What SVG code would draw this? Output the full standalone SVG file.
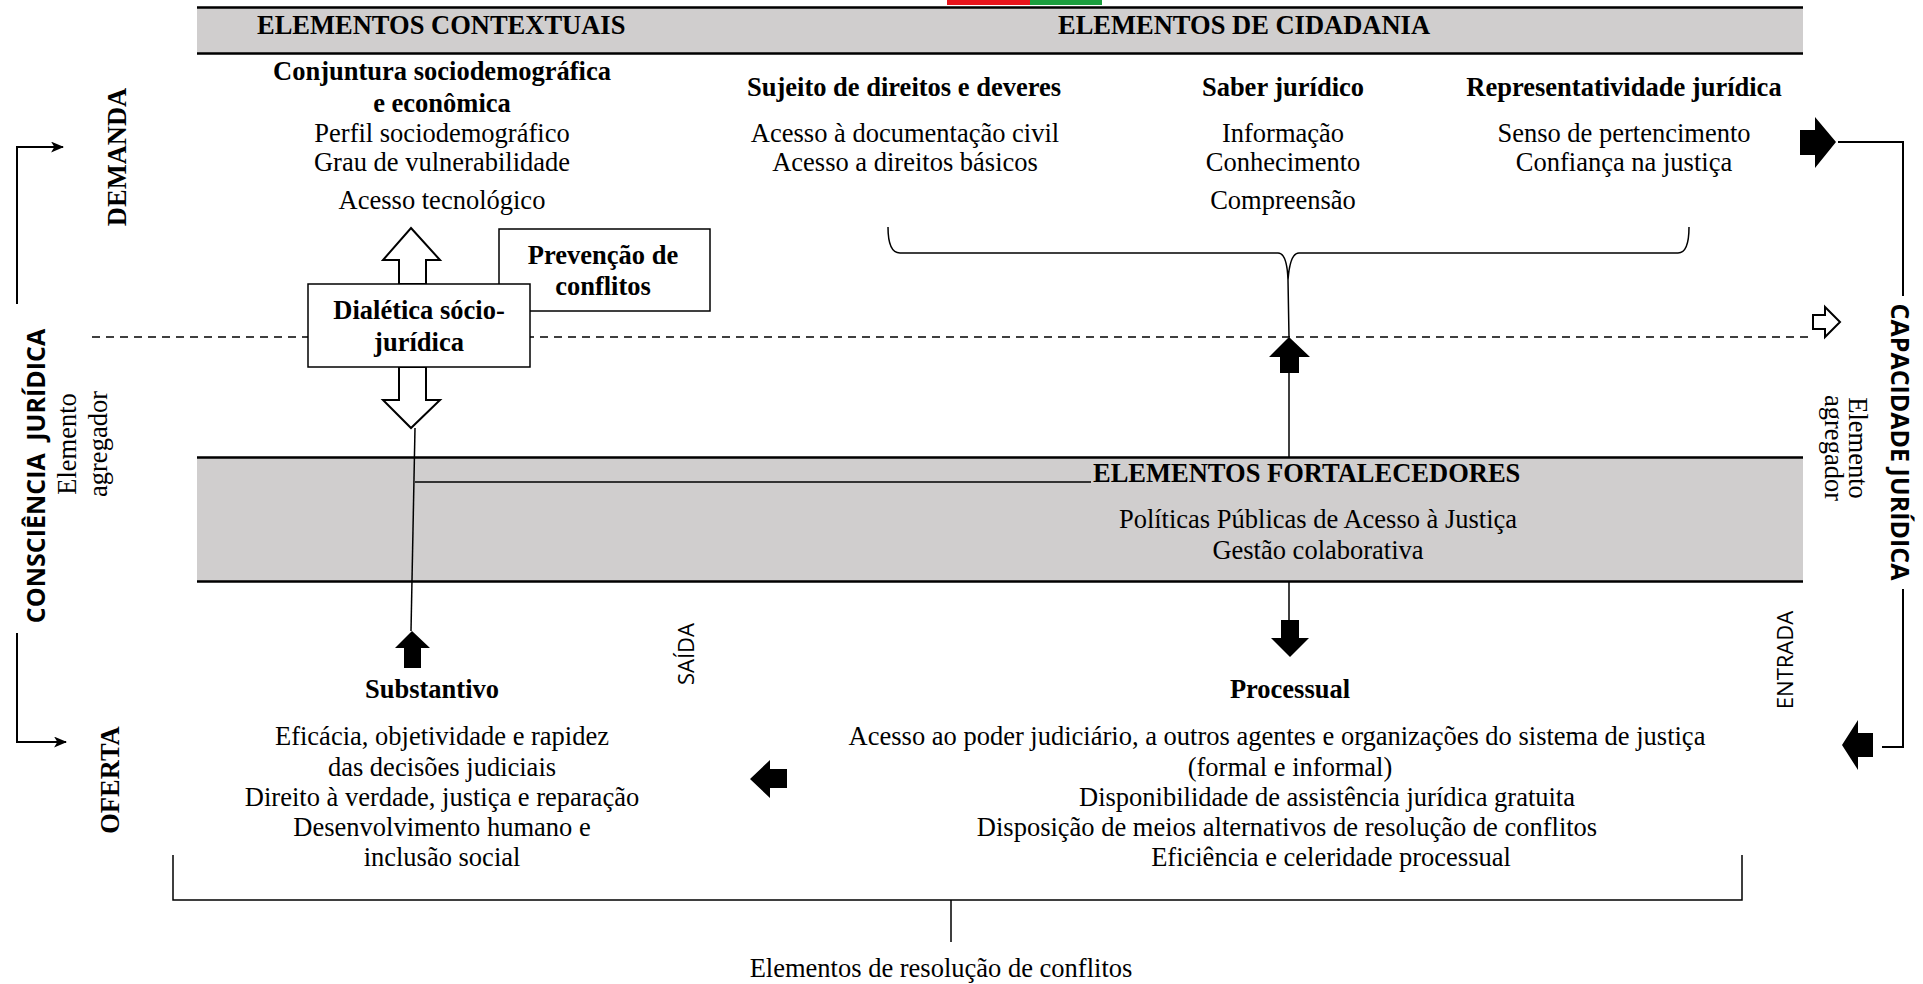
<svg xmlns="http://www.w3.org/2000/svg" width="1923" height="984" viewBox="0 0 1923 984">
<defs>
<style>
.s{font-family:"Liberation Serif","Times New Roman",serif;font-size:26.5px;fill:#000}
.b{font-weight:bold}
.m{text-anchor:middle}
.sans{font-family:"Open Sans","Liberation Sans",sans-serif;fill:#000}
.band{fill:#d0cece}
.bl{stroke:#000;stroke-width:2.6;fill:none}
.ln{stroke:#000;stroke-width:1.5;fill:none}
.lc{stroke:#000;stroke-width:2;fill:none}
.blk{fill:#000}
.hol{fill:#fff;stroke:#000;stroke-width:2}
.box{fill:#fff;stroke:#000;stroke-width:1.5}
</style>
<marker id="ah" viewBox="0 0 12 10" refX="11" refY="5" markerWidth="13" markerHeight="11" markerUnits="userSpaceOnUse" orient="auto"><path d="M0,0 L12,5 L0,10 L3,5 Z" fill="#000"/></marker>
</defs>
<rect width="1923" height="984" fill="#fff"/>
<g id="flag">
<rect x="947" y="0" width="83" height="5" fill="#e8141c"/>
<rect x="1030" y="0" width="72" height="5" fill="#1b9e3e"/>
</g>
<g id="top-band">
<rect class="band" x="197" y="7" width="1606" height="47"/>
<path class="bl" d="M197,7.5 H1803 M197,53.5 H1803"/>
<text class="s b" x="257" y="34">ELEMENTOS CONTEXTUAIS</text>
<text class="s b" x="1058" y="34">ELEMENTOS DE CIDADANIA</text>
</g>
<g id="mid-band">
<rect class="band" x="197" y="457" width="1606" height="125"/>
<path class="bl" d="M197,457.5 H1803 M197,581.5 H1803"/>
<text class="s b" x="1093" y="482">ELEMENTOS FORTALECEDORES</text>
<text class="s m" x="1318" y="528">Políticas Públicas de Acesso à Justiça</text>
<text class="s m" x="1318" y="559">Gestão colaborativa</text>
</g>
<g id="conjuntura">
<text class="s b m" x="442" y="80">Conjuntura sociodemográfica</text>
<text class="s b m" x="442" y="112">e econômica</text>
<text class="s m" x="442" y="142">Perfil sociodemográfico</text>
<text class="s m" x="442" y="171">Grau de vulnerabilidade</text>
<text class="s m" x="442" y="209">Acesso tecnológico</text>
</g>
<g id="sujeito">
<text class="s b m" x="904" y="96">Sujeito de direitos e deveres</text>
<text class="s m" x="905" y="142">Acesso à documentação civil</text>
<text class="s m" x="905" y="171">Acesso a direitos básicos</text>
</g>
<g id="saber">
<text class="s b m" x="1283" y="96">Saber jurídico</text>
<text class="s m" x="1283" y="142">Informação</text>
<text class="s m" x="1283" y="171">Conhecimento</text>
<text class="s m" x="1283" y="209">Compreensão</text>
</g>
<g id="representatividade">
<text class="s b m" x="1624" y="96">Representatividade jurídica</text>
<text class="s m" x="1624" y="142">Senso de pertencimento</text>
<text class="s m" x="1624" y="171">Confiança na justiça</text>
</g>
<g id="connectors">
<path class="ln" d="M92,337 H1812" stroke-dasharray="8 6" stroke-width="2"/>
<path class="ln" d="M888,227 Q888,253 900,253 H1278 Q1287,253 1288,280 Q1290,253 1299,253 H1678 Q1689,253 1689,227"/>
<path class="ln" d="M1288,280 L1289,337 M1289,373 V457 M1289,582 V620"/>
<path class="ln" d="M415,428 L411,631"/>
<path d="M415,482 H1091" stroke="#333" stroke-width="2" fill="none"/>
<path class="lc" d="M17,304 V147 H63" marker-end="url(#ah)"/>
<path class="lc" d="M17,633 V742 H66" marker-end="url(#ah)"/>
<path class="lc" d="M1838,142 H1903 V296 M1903,589 V747 H1882"/>
<path class="ln" d="M173,855 V900 H1742 V855 M951,900 V942"/>
<polygon class="blk" points="1289,337 1310,357 1299,357 1299,373 1280,373 1280,357 1269,357"/>
<polygon class="blk" points="412,631 430,648 421,648 421,668 404,668 404,648 395,648"/>
<polygon class="blk" points="1281,620 1299,620 1299,638 1309,638 1290,657 1271,638 1281,638"/>
<polygon class="blk" points="750,779 770,760 770,769 787,769 787,788 770,788 770,798"/>
<polygon class="blk" points="1800,130 1815,130 1815,117 1836,142 1815,168 1815,155 1800,155"/>
<polygon class="blk" points="1842,745 1858,720 1858,733 1873,733 1873,757 1858,757 1858,770"/>
<polygon class="hol" points="411,228 440,260 426,260 426,284 399,284 399,260 383,260"/>
<polygon class="hol" points="399,367 426,367 426,400 440,400 411,428 383,400 399,400"/>
<polygon class="hol" points="1813,315 1825,315 1825,307 1840,322 1825,337 1825,329 1813,329"/>
</g>
<g id="prevencao">
<rect class="box" x="499" y="229" width="211" height="82"/>
<text class="s b m" x="603" y="264">Prevenção de</text>
<text class="s b m" x="603" y="295">conflitos</text>
</g>
<g id="dialetica">
<rect class="box" x="308" y="284" width="222" height="83"/>
<text class="s b m" x="419" y="319">Dialética sócio-</text>
<text class="s b m" x="419" y="351">jurídica</text>
</g>
<g id="substantivo">
<text class="s b m" x="432" y="698">Substantivo</text>
<text class="s m" x="442" y="745">Eficácia, objetividade e rapidez</text>
<text class="s m" x="442" y="776">das decisões judiciais</text>
<text class="s m" x="442" y="806">Direito à verdade, justiça e reparação</text>
<text class="s m" x="442" y="836">Desenvolvimento humano e</text>
<text class="s m" x="442" y="866">inclusão social</text>
</g>
<g id="processual">
<text class="s b m" x="1290" y="698">Processual</text>
<text class="s m" x="1277" y="745">Acesso ao poder judiciário, a outros agentes e organizações do sistema de justiça</text>
<text class="s m" x="1290" y="776">(formal e informal)</text>
<text class="s m" x="1327" y="806">Disponibilidade de assistência jurídica gratuita</text>
<text class="s m" x="1287" y="836">Disposição de meios alternativos de resolução de conflitos</text>
<text class="s m" x="1331" y="866">Eficiência e celeridade processual</text>
</g>
<g id="resolucao">
<text class="s m" x="941" y="977">Elementos de resolução de conflitos</text>
</g>
<g id="side-left">
<text class="s b m" transform="translate(126,157) rotate(-90)">DEMANDA</text>
<text class="s b m" transform="translate(119,780) rotate(-90)">OFERTA</text>
<text class="sans m" font-weight="bold" font-size="25" transform="translate(45,476) rotate(-90)">CONSCIÊNCIA <tspan dx="6">JURÍDICA</tspan></text>
<text class="s m" transform="translate(76,444) rotate(-90)">Elemento</text>
<text class="s m" transform="translate(107,444) rotate(-90)">agregador</text>
</g>
<g id="side-right">
<text class="sans m" font-weight="bold" font-size="25" transform="translate(1891,442) rotate(90)">CAPACIDADE JURÍDICA</text>
<text class="s m" transform="translate(1849,448) rotate(90)">Elemento</text>
<text class="s m" transform="translate(1825,448) rotate(90)">agregador</text>
</g>
<g id="flow-labels">
<text class="sans m" font-size="22" transform="translate(694,654) rotate(-90)">SAÍDA</text>
<text class="sans m" font-size="22" transform="translate(1793,660) rotate(-90)">ENTRADA</text>
</g>
</svg>
